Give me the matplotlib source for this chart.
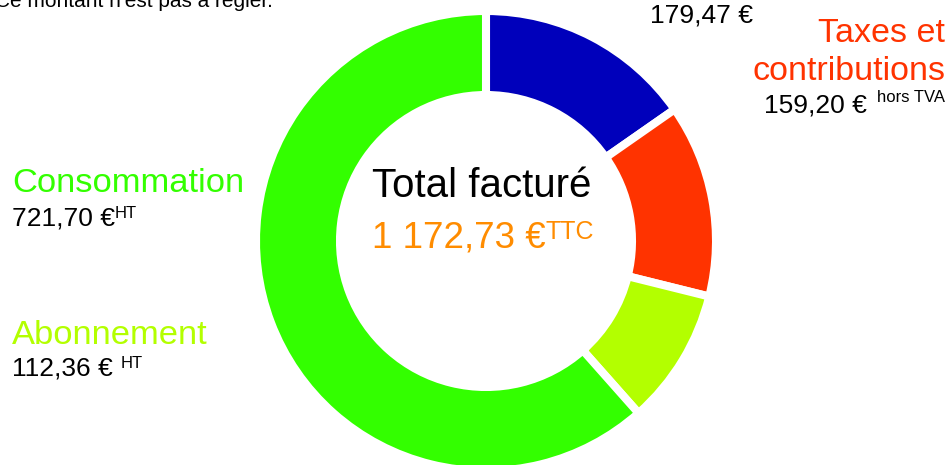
import matplotlib.pyplot as plt

# bill breakdown, clockwise from the top
categories = ["TVA", "Taxes et\ncontributions", "Abonnement", "Consommation"]
amounts = [179.47, 159.20, 112.36, 721.70]
suffixes = ["", "hors TVA", "HT", "HT"]
colors = ["#0000BB", "#FF3300", "#B3FF00", "#33FF00"]

total_label = "Total facturé"
note = "Ce montant n'est pas à régler."


def euro(v):
    s = f"{v:,.2f}"
    return s.replace(",", " ").replace(".", ",")


plt.rcParams["font.family"] = ["Liberation Sans", "DejaVu Sans"]

fig = plt.figure(figsize=(9.5, 4.65), dpi=100)
ax = fig.add_axes([0, 0, 1, 1])

# y axis points down so coordinates are in pixels from top-left;
# counterclock in data space is clockwise on screen
ax.pie(amounts, colors=colors, startangle=-90, counterclock=True,
       radius=230, center=(486, 241), frame=True,
       wedgeprops=dict(width=84, edgecolor="white", linewidth=5.8))
ax.set_xlim(0, 950)
ax.set_ylim(465, 0)
ax.set_aspect("equal")
ax.axis("off")

ax.text(-5, 7, note, fontsize=15, ha="left", va="baseline", color="black")

# TVA (label above is outside the frame)
ax.text(650, 22, euro(amounts[0]) + " €", fontsize=19, va="baseline")

# taxes
ax.text(945, 42, categories[1].split("\n")[0], fontsize=24.5, ha="right",
        va="baseline", color=colors[1])
ax.text(945, 80, categories[1].split("\n")[1], fontsize=24.5, ha="right",
        va="baseline", color=colors[1])
ax.text(867, 112, euro(amounts[1]) + " €", fontsize=19, ha="right", va="baseline")
ax.text(945, 102, suffixes[1], fontsize=12, ha="right", va="baseline")

# consommation
ax.text(12, 192, categories[3], fontsize=24.8, va="baseline", color=colors[3])
t = ax.text(12, 225, euro(amounts[3]) + " €", fontsize=19, va="baseline")
ax.annotate(suffixes[3], xy=(1, 1), xycoords=t, xytext=(0, 0),
            textcoords="offset points", fontsize=12, va="top", ha="left")

# abonnement
ax.text(12, 344, categories[2], fontsize=24.8, va="baseline", color=colors[2])
t = ax.text(12, 375, euro(amounts[2]) + " € ", fontsize=19, va="baseline")
ax.annotate(suffixes[2], xy=(1, 1), xycoords=t, xytext=(0, 0),
            textcoords="offset points", fontsize=12, va="top", ha="left")

# centre
ax.text(372, 197, total_label, fontsize=29, va="baseline", color="black")
t = ax.text(372, 247, euro(sum(amounts)) + " €", fontsize=26.5, va="baseline",
            color="#FF8C00")
ax.annotate("TTC", xy=(1, 1), xycoords=t, xytext=(0, 0),
            textcoords="offset points", fontsize=18, va="top", ha="left",
            color="#FF8C00")

fig.savefig("out.png", dpi=100)
